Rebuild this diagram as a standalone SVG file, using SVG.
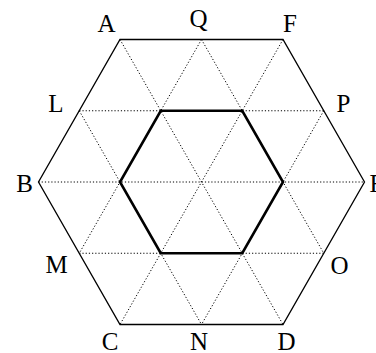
<svg xmlns="http://www.w3.org/2000/svg" width="376" height="353" viewBox="0 0 376 353">
<style>
.outer{fill:none;stroke:#000;stroke-width:1.3;stroke-linejoin:miter}
.inner{fill:none;stroke:#000;stroke-width:2.6;stroke-linejoin:miter}
.grid line{stroke:#000;stroke-width:1;stroke-dasharray:1.2 2}
.lbl{font-family:"Liberation Serif","Times New Roman",serif;font-size:25px;fill:#000;text-anchor:middle}
</style>
<rect width="376" height="353" fill="#fff"/>
<g id="connectors">
<g class="grid">
<line x1="79.25" y1="110.75" x2="323.75" y2="110.75"/>
<line x1="38.5" y1="182" x2="364.5" y2="182"/>
<line x1="79.25" y1="253.25" x2="323.75" y2="253.25"/>
<line x1="120" y1="39.5" x2="283" y2="324.5"/>
<line x1="201.5" y1="39.5" x2="323.75" y2="253.25"/>
<line x1="79.25" y1="110.75" x2="201.5" y2="324.5"/>
<line x1="283" y1="39.5" x2="120" y2="324.5"/>
<line x1="201.5" y1="39.5" x2="79.25" y2="253.25"/>
<line x1="323.75" y1="110.75" x2="201.5" y2="324.5"/>
</g>
</g>
<g id="outer-hexagon">
<polygon class="outer" points="120,39.5 283,39.5 364.5,182 283,324.5 120,324.5 38.5,182"/>
</g>
<g id="inner-hexagon">
<polygon class="inner" points="160.75,110.75 242.25,110.75 283,182 242.25,253.25 160.75,253.25 120,182"/>
</g>
<g id="labels">
<g id="A"><text class="lbl" x="106.5" y="32">A</text></g>
<g id="Q"><text class="lbl" x="198.5" y="27">Q</text></g>
<g id="F"><text class="lbl" x="290" y="32">F</text></g>
<g id="L"><text class="lbl" x="56" y="112">L</text></g>
<g id="P"><text class="lbl" x="343.5" y="112">P</text></g>
<g id="B"><text class="lbl" x="24.5" y="192">B</text></g>
<g id="E"><text class="lbl" x="369.5" y="192" style="text-anchor:start">E</text></g>
<g id="M"><text class="lbl" x="56.5" y="273">M</text></g>
<g id="O"><text class="lbl" x="339.5" y="274">O</text></g>
<g id="C"><text class="lbl" x="110" y="350">C</text></g>
<g id="N"><text class="lbl" x="199" y="350">N</text></g>
<g id="D"><text class="lbl" x="286.5" y="350">D</text></g>
</g>
</svg>
